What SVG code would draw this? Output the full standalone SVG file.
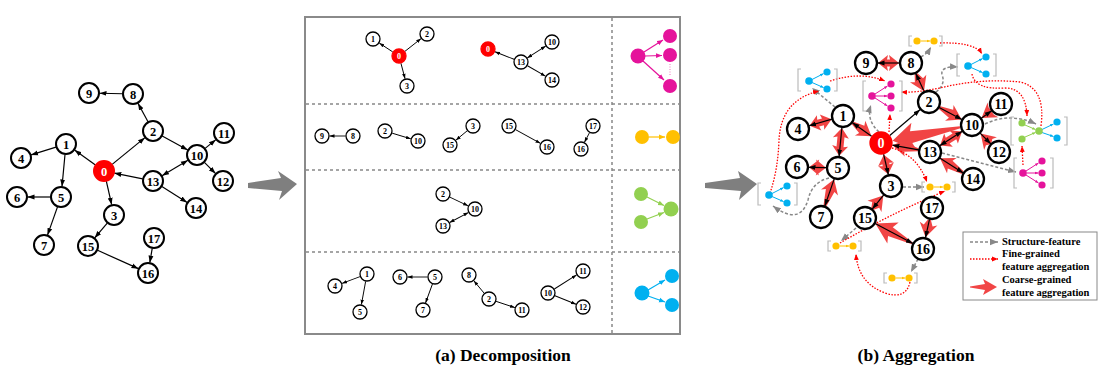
<svg xmlns="http://www.w3.org/2000/svg" xmlns:xlink="http://www.w3.org/1999/xlink" width="1101" height="373" viewBox="0 0 1101 373">
<style>
.n circle{fill:#fff;stroke:#000;stroke-width:2}
.n text{font-family:"Liberation Serif",serif;font-weight:bold;text-anchor:middle;fill:#000}
.L text{font-size:12.5px}
.M circle{stroke-width:1.3}
.M text{font-size:8px}
.R circle{stroke-width:2.3}
.R text{font-size:14px}
.n .z circle{fill:#f00;stroke:#f00}
.n .z text{fill:#fff}
.e{stroke:#000;stroke-width:1.2;fill:none;marker-end:url(#ah)}
.eb{marker-start:url(#ah)}
.em{stroke:#000;stroke-width:0.9;fill:none;marker-end:url(#ahs)}
.emb{marker-start:url(#ahs)}
.ra{fill:#f03535;opacity:0.92}
.gd{stroke:#888;stroke-width:1.5;stroke-dasharray:3 2;fill:none;marker-end:url(#gh)}
.rd{stroke:#f00;stroke-width:1.3;stroke-dasharray:1.5 1.5;fill:none;marker-end:url(#rh)}
.br{stroke:#bbb;stroke-width:1.2;fill:none}
.grid{stroke:#888;stroke-width:1.5;stroke-dasharray:3 3;fill:none}
.lg{font-family:"Liberation Serif",serif;font-weight:bold;font-size:10.5px;fill:#000}
.tt{font-family:"Liberation Serif",serif;font-weight:bold;font-size:17.5px;text-anchor:middle;fill:#000}
</style>
<defs>
<marker id="ah" viewBox="0 0 10 10" refX="10" refY="5" markerWidth="7" markerHeight="7" markerUnits="userSpaceOnUse" orient="auto-start-reverse"><path d="M0,1.5 L10,5 L0,8.5 z" fill="#000"/></marker>
<marker id="ahs" viewBox="0 0 10 10" refX="10" refY="5" markerWidth="5" markerHeight="5" markerUnits="userSpaceOnUse" orient="auto-start-reverse"><path d="M0,1.5 L10,5 L0,8.5 z" fill="#000"/></marker>
<marker id="gh" viewBox="0 0 10 10" refX="10" refY="5" markerWidth="8" markerHeight="8" markerUnits="userSpaceOnUse" orient="auto"><path d="M0,1 L10,5 L0,9 z" fill="#888"/></marker>
<marker id="rh" viewBox="0 0 10 10" refX="10" refY="5" markerWidth="6" markerHeight="6" markerUnits="userSpaceOnUse" orient="auto"><path d="M0,1 L10,5 L0,9 z" fill="#f00"/></marker>
<marker id="mh" viewBox="0 0 10 10" refX="10" refY="5" markerWidth="6" markerHeight="6" markerUnits="userSpaceOnUse" orient="auto"><path d="M0,1 L10,5 L0,9 z" fill="#e5139b"/></marker>
<marker id="oh" viewBox="0 0 10 10" refX="10" refY="5" markerWidth="6" markerHeight="6" markerUnits="userSpaceOnUse" orient="auto"><path d="M0,1 L10,5 L0,9 z" fill="#ffc000"/></marker>
<marker id="grh" viewBox="0 0 10 10" refX="10" refY="5" markerWidth="6" markerHeight="6" markerUnits="userSpaceOnUse" orient="auto"><path d="M0,1 L10,5 L0,9 z" fill="#92d050"/></marker>
<marker id="bh" viewBox="0 0 10 10" refX="10" refY="5" markerWidth="6" markerHeight="6" markerUnits="userSpaceOnUse" orient="auto"><path d="M0,1 L10,5 L0,9 z" fill="#00b0f0"/></marker>
<marker id="mhs" viewBox="0 0 10 10" refX="10" refY="5" markerWidth="3.5" markerHeight="3.5" markerUnits="userSpaceOnUse" orient="auto"><path d="M0,1 L10,5 L0,9 z" fill="#e5139b"/></marker>
<marker id="ohs" viewBox="0 0 10 10" refX="10" refY="5" markerWidth="3.5" markerHeight="3.5" markerUnits="userSpaceOnUse" orient="auto"><path d="M0,1 L10,5 L0,9 z" fill="#ffc000"/></marker>
<marker id="grhs" viewBox="0 0 10 10" refX="10" refY="5" markerWidth="3.5" markerHeight="3.5" markerUnits="userSpaceOnUse" orient="auto"><path d="M0,1 L10,5 L0,9 z" fill="#92d050"/></marker>
<marker id="bhs" viewBox="0 0 10 10" refX="10" refY="5" markerWidth="3.5" markerHeight="3.5" markerUnits="userSpaceOnUse" orient="auto"><path d="M0,1 L10,5 L0,9 z" fill="#00b0f0"/></marker>
<g id="icM">
<path class="br" d="M-6,-15 H-9 V15 H-6 M27,-15 H30 V15 H27"/>
<g stroke="#e5139b" stroke-width="1" fill="none" marker-end="url(#mhs)"><line x1="3" y1="-2" x2="15.5" y2="-10"/><line x1="3.6" y1="0" x2="15.4" y2="0"/><line x1="3" y1="2" x2="15.5" y2="10"/></g>
<g fill="#e5139b"><circle cx="0" cy="0" r="3.8"/><circle cx="19" cy="-12" r="3.6"/><circle cx="19" cy="0" r="3.6"/><circle cx="19" cy="12" r="3.6"/></g>
</g>
<g id="icB">
<path class="br" d="M-8,-12 H-11 V10 H-8 M25,-12 H28 V10 H25"/>
<g stroke="#00b0f0" stroke-width="1" fill="none" marker-end="url(#bhs)"><line x1="3" y1="-1.5" x2="14.6" y2="-7.4"/><line x1="3" y1="1.5" x2="14.6" y2="6.6"/></g>
<g fill="#00b0f0"><circle cx="0" cy="0" r="3.8"/><circle cx="18" cy="-9" r="3.6"/><circle cx="18" cy="8" r="3.6"/></g>
</g>
<g id="icO">
<path class="br" d="M-5,-5 H-8 V5 H-5 M22,-5 H25 V5 H22"/>
<line x1="3.6" y1="0" x2="13.2" y2="0" stroke="#ffc000" stroke-width="1" marker-end="url(#ohs)"/>
<g fill="#ffc000"><circle cx="0" cy="0" r="3.6"/><circle cx="17" cy="0" r="3.6"/></g>
</g>
</defs>

<!-- big gray arrows -->
<polygon points="248,183 281,178 278,171 297,184 279,200 282,191 248,188" fill="#7f7f7f"/>
<polygon points="705,183 740,178 738,171 757,184 739,200 741,191 705,188" fill="#7f7f7f"/>

<!-- decomposition frame -->
<g id="frame">
<rect x="305" y="17" width="375" height="317" fill="none" stroke="#8a8a8a" stroke-width="2"/>
<line class="grid" x1="612" y1="18" x2="612" y2="333"/>
<line class="grid" x1="306" y1="104" x2="679" y2="104"/>
<line class="grid" x1="306" y1="170" x2="679" y2="170"/>
<line class="grid" x1="306" y1="252" x2="679" y2="252"/>
</g>

<g id="connectors">
<!-- left graph edges -->
<g>
<line class="e" transform="translate(133,94) rotate(181.3)" x1="10.5" y1="0" x2="33.5" y2="0"/>
<line class="e" transform="translate(153,131) rotate(-118.4)" x1="10.5" y1="0" x2="31.6" y2="0"/>
<line class="e" transform="translate(153,131) rotate(28.6)" x1="10.5" y1="0" x2="39.6" y2="0"/>
<line class="e" transform="translate(104,171) rotate(-39.2)" x1="10.5" y1="0" x2="52.8" y2="0"/>
<line class="e" transform="translate(104,171) rotate(-144.6)" x1="10.5" y1="0" x2="36.1" y2="0"/>
<line class="e" transform="translate(66,144) rotate(162.7)" x1="10.5" y1="0" x2="36.6" y2="0"/>
<line class="e" transform="translate(66,144) rotate(95.4)" x1="10.5" y1="0" x2="42.7" y2="0"/>
<line class="e" transform="translate(61,197) rotate(180)" x1="10.5" y1="0" x2="33.5" y2="0"/>
<line class="e" transform="translate(61,197) rotate(109.5)" x1="10.5" y1="0" x2="40.4" y2="0"/>
<line class="e" transform="translate(104,171) rotate(77.2)" x1="10.5" y1="0" x2="34.6" y2="0"/>
<line class="e" transform="translate(114,215) rotate(130)" x1="10.5" y1="0" x2="30" y2="0"/>
<line class="e" transform="translate(88,246) rotate(24.2)" x1="10.5" y1="0" x2="55.3" y2="0"/>
<line class="e" transform="translate(154,238) rotate(99.7)" x1="10.5" y1="0" x2="25" y2="0"/>
<line class="e" transform="translate(153,181) rotate(-168.5)" x1="10.5" y1="0" x2="39.5" y2="0"/>
<line class="e eb" transform="translate(153,181) rotate(-30.6)" x1="10.5" y1="0" x2="40.6" y2="0"/>
<line class="e" transform="translate(153,181) rotate(32.1)" x1="10.5" y1="0" x2="40.3" y2="0"/>
<line class="e" transform="translate(197,155) rotate(-39.2)" x1="10.5" y1="0" x2="24.3" y2="0"/>
<line class="e" transform="translate(197,155) rotate(45)" x1="10.5" y1="0" x2="26.3" y2="0"/>
</g>
<!-- middle subgraph edges -->
<g>
<line class="em" transform="translate(399,56) rotate(213.2)" x1="7.5" y1="0" x2="23.6" y2="0"/>
<line class="em" transform="translate(399,56) rotate(-38.2)" x1="7.5" y1="0" x2="28.1" y2="0"/>
<line class="em" transform="translate(399,56) rotate(75.1)" x1="7.5" y1="0" x2="23.5" y2="0"/>
<line class="em" transform="translate(521,62) rotate(201.5)" x1="7.5" y1="0" x2="28" y2="0"/>
<line class="em emb" transform="translate(521,62) rotate(-32.8)" x1="7.5" y1="0" x2="29.4" y2="0"/>
<line class="em" transform="translate(521,62) rotate(30.1)" x1="7.5" y1="0" x2="28.3" y2="0"/>
<line class="em" transform="translate(353,136) rotate(180)" x1="7.5" y1="0" x2="23.5" y2="0"/>
<line class="em" transform="translate(385,131) rotate(16.9)" x1="7.5" y1="0" x2="27" y2="0"/>
<line class="em" transform="translate(473,126) rotate(140.4)" x1="7.5" y1="0" x2="22.3" y2="0"/>
<line class="em" transform="translate(509,126) rotate(28.9)" x1="7.5" y1="0" x2="35.9" y2="0"/>
<line class="em" transform="translate(593,126) rotate(117.6)" x1="7.5" y1="0" x2="18.4" y2="0"/>
<line class="em" transform="translate(443,194) rotate(25.1)" x1="7.5" y1="0" x2="27.8" y2="0"/>
<line class="em emb" transform="translate(443,226) rotate(-28)" x1="7.5" y1="0" x2="28.7" y2="0"/>
<line class="em" transform="translate(367,274) rotate(159.4)" x1="7.5" y1="0" x2="26.7" y2="0"/>
<line class="em" transform="translate(367,274) rotate(100.4)" x1="7.5" y1="0" x2="31.1" y2="0"/>
<line class="em" transform="translate(435,277) rotate(180)" x1="7.5" y1="0" x2="27.5" y2="0"/>
<line class="em" transform="translate(435,277) rotate(110)" x1="7.5" y1="0" x2="27.6" y2="0"/>
<line class="em" transform="translate(489,299) rotate(-129.8)" x1="7.5" y1="0" x2="23.7" y2="0"/>
<line class="em" transform="translate(489,299) rotate(18.4)" x1="7.5" y1="0" x2="27.3" y2="0"/>
<line class="em" transform="translate(548,293) rotate(-32.2)" x1="7.5" y1="0" x2="33.8" y2="0"/>
<line class="em" transform="translate(548,293) rotate(21.8)" x1="7.5" y1="0" x2="30.2" y2="0"/>
</g>
<!-- pattern column arrows -->
<g fill="none" stroke-width="1.2">
<g stroke="#e5139b" marker-end="url(#mh)"><line x1="644" y1="52" x2="663" y2="40"/><line x1="645" y1="56" x2="662" y2="55.5"/><line x1="643" y1="61" x2="664" y2="80"/></g>
<line x1="670" y1="64" x2="670" y2="76" stroke="#f08ccb" stroke-dasharray="1 1.5"/>
<line x1="649" y1="137" x2="665" y2="137" stroke="#ffc000" marker-end="url(#oh)"/>
<g stroke="#92d050" marker-end="url(#grh)"><line x1="647" y1="197" x2="664" y2="205.5"/><line x1="647" y1="219" x2="664" y2="212.5"/></g>
<g stroke="#00b0f0" marker-end="url(#bh)"><line x1="648" y1="290" x2="665" y2="280"/><line x1="648" y1="296" x2="665" y2="302"/></g>
</g>
<!-- coarse-grained red arrows -->
<g class="ra">
<polygon transform="translate(866,63) rotate(0)" points="12,0 22,-8 21,-3.5 24,-3.5 23,-8 33,0 23,8 24,3.5 21,3.5 22,8"/>
<polygon transform="translate(911,63) rotate(65.2)" points="12,-1.5 19,-4.5 17,-9 31,0 17,9 19,4.5 12,1.5"/>
<polygon transform="translate(929,102) rotate(28.1)" points="12,-1.5 25,-4.5 23,-9 37,0 23,9 25,4.5 12,1.5"/>
<polygon transform="translate(1001,104) rotate(144.1)" points="12,-1.5 12,-4.5 10,-9 24,0 10,9 12,4.5 12,1.5"/>
<polygon transform="translate(999,152) rotate(-135)" points="12,-1.5 14,-4.5 12,-9 26,0 12,9 14,4.5 12,1.5"/>
<polygon transform="translate(930,152) rotate(-32.7)" points="12,0 22,-8 21,-3.5 29,-3.5 28,-8 38,0 28,8 29,3.5 21,3.5 22,8"/>
<polygon transform="translate(973,179) rotate(-147.9)" points="12,-1.5 27,-4.5 25,-9 39,0 25,9 27,4.5 12,1.5"/>
<polygon transform="translate(972,125) rotate(168.8)" points="12,-1 62,-6 59,-14 81,0 59,14 62,6 12,1"/>
<polygon transform="translate(930,152) rotate(-169.6)" points="12,-1.5 26,-4.5 24,-9 38,0 24,9 26,4.5 12,1.5"/>
<polygon transform="translate(843,116) rotate(35.4)" points="12,-1.5 23,-4.5 21,-9 35,0 21,9 23,4.5 12,1.5"/>
<polygon transform="translate(798,129) rotate(-16.1)" points="12,0 22,-8 21,-3.5 26,-3.5 25,-8 35,0 25,8 26,3.5 21,3.5 22,8"/>
<polygon transform="translate(843,116) rotate(95.5)" points="12,0 22,-8 21,-3.5 31,-3.5 30,-8 40,0 30,8 31,3.5 21,3.5 22,8"/>
<polygon transform="translate(797,167) rotate(1.4)" points="12,0 22,-8 21,-3.5 20,-3.5 19,-8 29,0 19,8 20,3.5 21,3.5 22,8"/>
<polygon transform="translate(821,217) rotate(-70.9)" points="12,-1.5 28,-4.5 26,-9 40,0 26,9 28,4.5 12,1.5"/>
<polygon transform="translate(881,143) rotate(76.9)" points="12,0 22,-8 21,-3.5 23,-3.5 22,-8 32,0 22,8 23,3.5 21,3.5 22,8"/>
<polygon transform="translate(865,218) rotate(-50.9)" points="12,-1.5 17,-4.5 15,-9 29,0 15,9 17,4.5 12,1.5"/>
<polygon transform="translate(923,249) rotate(-151.9)" points="12,-1 37,-5 34,-12 54,0 34,12 37,5 12,1"/>
<polygon transform="translate(932,208) rotate(102.4)" points="12,-1.5 18,-4.5 16,-9 30,0 16,9 18,4.5 12,1.5"/>
</g>
<!-- right graph black edges -->
<g>
<line class="e" transform="translate(911,63) rotate(180)" x1="11.5" y1="0" x2="33.5" y2="0"/>
<line class="e" transform="translate(929,102) rotate(-114.8)" x1="11.5" y1="0" x2="31.5" y2="0"/>
<line class="e" transform="translate(929,102) rotate(28.1)" x1="11.5" y1="0" x2="37.3" y2="0"/>
<line class="e" transform="translate(881,143) rotate(-40.5)" x1="11.5" y1="0" x2="51.6" y2="0"/>
<line class="e" transform="translate(881,143) rotate(-144.6)" x1="11.5" y1="0" x2="35.1" y2="0"/>
<line class="e" transform="translate(843,116) rotate(163.9)" x1="11.5" y1="0" x2="35.3" y2="0"/>
<line class="e" transform="translate(843,116) rotate(95.5)" x1="11.5" y1="0" x2="40.7" y2="0"/>
<line class="e" transform="translate(838,168) rotate(181.4)" x1="11.5" y1="0" x2="29.5" y2="0"/>
<line class="e" transform="translate(838,168) rotate(109.1)" x1="11.5" y1="0" x2="40.4" y2="0"/>
<line class="e" transform="translate(881,143) rotate(76.9)" x1="11.5" y1="0" x2="32.6" y2="0"/>
<line class="e" transform="translate(891,186) rotate(129.1)" x1="11.5" y1="0" x2="29.7" y2="0"/>
<line class="e" transform="translate(865,218) rotate(28.1)" x1="11.5" y1="0" x2="54.3" y2="0"/>
<line class="e" transform="translate(932,208) rotate(102.4)" x1="11.5" y1="0" x2="30.5" y2="0"/>
<line class="e" transform="translate(930,152) rotate(-169.6)" x1="11.5" y1="0" x2="38.3" y2="0"/>
<line class="e eb" transform="translate(930,152) rotate(-32.7)" x1="11.5" y1="0" x2="38.4" y2="0"/>
<line class="e" transform="translate(930,152) rotate(32.1)" x1="11.5" y1="0" x2="39.3" y2="0"/>
<line class="e" transform="translate(972,125) rotate(-35.9)" x1="11.5" y1="0" x2="24.3" y2="0"/>
<line class="e" transform="translate(972,125) rotate(45)" x1="11.5" y1="0" x2="26.7" y2="0"/>
</g>
<!-- structure-feature (gray dashed) -->
<g>
<path class="gd" d="M879,132 Q866,120 871,105"/>
<path class="gd" d="M835,107 L812,88"/>
<path class="gd" d="M921,57 Q927,54 931,47"/>
<path class="gd" d="M936,92 Q946,84 942,75 Q940,66 958,67"/>
<path class="gd" d="M985,124 Q1010,112 1036,124"/>
<path class="gd" d="M942,153 L1016,172"/>
<path class="gd" d="M903,187 L924,187"/>
<path class="gd" d="M829,178 Q812,182 808,200 Q800,226 773,206"/>
<path class="gd" d="M856,228 L841,241"/>
<path class="gd" d="M918,259 L911,272"/>
</g>
<!-- fine-grained (red dotted) -->
<g>
<path class="rd" d="M830,81 Q860,71 885,81"/>
<path class="rd" d="M889,132 L890,114"/>
<path class="rd" d="M770,193 Q778,170 779,140 Q781,100 819,91"/>
<path class="rd" d="M940,43 Q975,42 982,54"/>
<path class="rd" d="M972,74 Q975,90 1005,88 Q1026,88 1027,116"/>
<path class="rd" d="M1041,126 Q1046,88 1020,82 Q980,78 940,88 Q915,93 901,92"/>
<path class="rd" d="M1023,165 L1022,146"/>
<path class="rd" d="M892,148 Q917,155 927,182"/>
<path class="rd" d="M840,243 Q890,214 945,191"/>
<path class="rd" d="M910,282 Q906,300 885,293 Q858,283 856,254"/>
</g>
</g>

<!-- left graph nodes -->
<g class="n L">
<g id="L9"><circle cx="89" cy="93" r="10"/><text x="89" y="97.5">9</text></g>
<g id="L8"><circle cx="133" cy="94" r="10"/><text x="133" y="98.5">8</text></g>
<g id="L2"><circle cx="153" cy="131" r="10"/><text x="153" y="135.5">2</text></g>
<g id="L1"><circle cx="66" cy="144" r="10"/><text x="66" y="148.5">1</text></g>
<g id="L4"><circle cx="21" cy="158" r="10"/><text x="21" y="162.5">4</text></g>
<g id="L0"><g class="z"><circle cx="104" cy="171" r="10"/><text x="104" y="175.5">0</text></g></g>
<g id="L10"><circle cx="197" cy="155" r="10"/><text x="197" y="159.5">10</text></g>
<g id="L11"><circle cx="224" cy="133" r="10"/><text x="224" y="137.5">11</text></g>
<g id="L12"><circle cx="223" cy="181" r="10"/><text x="223" y="185.5">12</text></g>
<g id="L13"><circle cx="153" cy="181" r="10"/><text x="153" y="185.5">13</text></g>
<g id="L14"><circle cx="196" cy="208" r="10"/><text x="196" y="212.5">14</text></g>
<g id="L5"><circle cx="61" cy="197" r="10"/><text x="61" y="201.5">5</text></g>
<g id="L6"><circle cx="17" cy="197" r="10"/><text x="17" y="201.5">6</text></g>
<g id="L3"><circle cx="114" cy="215" r="10"/><text x="114" y="219.5">3</text></g>
<g id="L7"><circle cx="44" cy="245" r="10"/><text x="44" y="249.5">7</text></g>
<g id="L15"><circle cx="88" cy="246" r="10"/><text x="88" y="250.5">15</text></g>
<g id="L17"><circle cx="154" cy="238" r="10"/><text x="154" y="242.5">17</text></g>
<g id="L16"><circle cx="148" cy="273" r="10"/><text x="148" y="277.5">16</text></g>
</g>

<!-- middle subgraph nodes -->
<g class="n M">
<g id="a1"><circle cx="373" cy="39" r="7"/><text x="373" y="42">1</text></g>
<g id="a2"><circle cx="427" cy="34" r="7"/><text x="427" y="37">2</text></g>
<g id="a0" class="z"><circle cx="399" cy="56" r="7"/><text x="399" y="59">0</text></g>
<g id="a3"><circle cx="407" cy="86" r="7"/><text x="407" y="89">3</text></g>
<g id="b0" class="z"><circle cx="488" cy="49" r="7"/><text x="488" y="52">0</text></g>
<g id="b13"><circle cx="521" cy="62" r="7"/><text x="521" y="65">13</text></g>
<g id="b10"><circle cx="552" cy="42" r="7"/><text x="552" y="45">10</text></g>
<g id="b14"><circle cx="552" cy="80" r="7"/><text x="552" y="83">14</text></g>
<g id="c9"><circle cx="322" cy="136" r="7"/><text x="322" y="139">9</text></g>
<g id="c8"><circle cx="353" cy="136" r="7"/><text x="353" y="139">8</text></g>
<g id="d2"><circle cx="385" cy="131" r="7"/><text x="385" y="134">2</text></g>
<g id="d10"><circle cx="418" cy="141" r="7"/><text x="418" y="144">10</text></g>
<g id="e3"><circle cx="473" cy="126" r="7"/><text x="473" y="129">3</text></g>
<g id="e15"><circle cx="450" cy="145" r="7"/><text x="450" y="148">15</text></g>
<g id="f15"><circle cx="509" cy="126" r="7"/><text x="509" y="129">15</text></g>
<g id="f16"><circle cx="547" cy="147" r="7"/><text x="547" y="150">16</text></g>
<g id="g17"><circle cx="593" cy="126" r="7"/><text x="593" y="129">17</text></g>
<g id="g16"><circle cx="581" cy="149" r="7"/><text x="581" y="152">16</text></g>
<g id="h2"><circle cx="443" cy="194" r="7"/><text x="443" y="197">2</text></g>
<g id="h10"><circle cx="475" cy="209" r="7"/><text x="475" y="212">10</text></g>
<g id="h13"><circle cx="443" cy="226" r="7"/><text x="443" y="229">13</text></g>
<g id="i1"><circle cx="367" cy="274" r="7"/><text x="367" y="277">1</text></g>
<g id="i4"><circle cx="335" cy="286" r="7"/><text x="335" y="289">4</text></g>
<g id="i5"><circle cx="360" cy="312" r="7"/><text x="360" y="315">5</text></g>
<g id="j6"><circle cx="400" cy="277" r="7"/><text x="400" y="280">6</text></g>
<g id="j5"><circle cx="435" cy="277" r="7"/><text x="435" y="280">5</text></g>
<g id="j7"><circle cx="423" cy="310" r="7"/><text x="423" y="313">7</text></g>
<g id="k8"><circle cx="469" cy="275" r="7"/><text x="469" y="278">8</text></g>
<g id="k2"><circle cx="489" cy="299" r="7"/><text x="489" y="302">2</text></g>
<g id="k11"><circle cx="522" cy="310" r="7"/><text x="522" y="313">11</text></g>
<g id="l10"><circle cx="548" cy="293" r="7"/><text x="548" y="296">10</text></g>
<g id="l11"><circle cx="583" cy="271" r="7"/><text x="583" y="274">11</text></g>
<g id="l12"><circle cx="583" cy="307" r="7"/><text x="583" y="310">12</text></g>
</g>

<!-- pattern column nodes -->
<g id="patM" fill="#e5139b"><circle cx="638" cy="56" r="7.5"/><circle cx="670" cy="36" r="7"/><circle cx="670" cy="55" r="7"/><circle cx="670" cy="86" r="7"/></g>
<g id="patO" fill="#ffc000"><circle cx="642" cy="137" r="7"/><circle cx="673" cy="137" r="7"/></g>
<g id="patG" fill="#92d050"><circle cx="641" cy="194" r="7"/><circle cx="641" cy="222" r="7"/><circle cx="671" cy="209" r="7.5"/></g>
<g id="patB" fill="#00b0f0"><circle cx="642" cy="293" r="7.5"/><circle cx="672" cy="276" r="7"/><circle cx="672" cy="305" r="7"/></g>

<!-- pattern icons in aggregation -->
<use id="iconM1" xlink:href="#icM" href="#icM" x="872" y="96"/>
<use id="iconM2" xlink:href="#icM" href="#icM" x="1023" y="173"/>
<use id="iconB1" xlink:href="#icB" href="#icB" x="809" y="81"/>
<use id="iconB2" xlink:href="#icB" href="#icB" x="769" y="195"/>
<use id="iconB3" xlink:href="#icB" href="#icB" x="968" y="66"/>
<use id="iconO1" xlink:href="#icO" href="#icO" x="917" y="41"/>
<use id="iconO2" xlink:href="#icO" href="#icO" x="930" y="187"/>
<use id="iconO3" xlink:href="#icO" href="#icO" x="836" y="246"/>
<use id="iconO4" xlink:href="#icO" href="#icO" x="892" y="278"/>
<g id="iconG">
<path class="br" d="M1014,117 H1011 V145 H1014 M1064,117 H1067 V145 H1064"/>
<g stroke-width="1" fill="none"><g stroke="#92d050" marker-end="url(#grhs)"><line x1="1025" y1="125" x2="1035.5" y2="129.5"/><line x1="1025" y1="137" x2="1035.5" y2="132.5"/></g>
<g stroke="#00b0f0" marker-end="url(#bhs)"><line x1="1042" y1="129.5" x2="1053.5" y2="124"/><line x1="1042" y1="132.5" x2="1053.5" y2="136.5"/></g></g>
<circle cx="1022" cy="123" r="3.6" fill="#92d050"/><circle cx="1022" cy="139" r="3.6" fill="#92d050"/><circle cx="1039" cy="131" r="3.8" fill="#92d050"/>
<circle cx="1057" cy="122" r="3.6" fill="#00b0f0"/><circle cx="1057" cy="138" r="3.6" fill="#00b0f0"/>
</g>

<!-- right graph nodes -->
<g class="n R">
<g id="R9"><circle cx="866" cy="63" r="11"/><text x="866" y="68">9</text></g>
<g id="R8"><circle cx="911" cy="63" r="11"/><text x="911" y="68">8</text></g>
<g id="R2"><circle cx="929" cy="102" r="11"/><text x="929" y="107">2</text></g>
<g id="R1"><circle cx="843" cy="116" r="11"/><text x="843" y="121">1</text></g>
<g id="R4"><circle cx="798" cy="129" r="11"/><text x="798" y="134">4</text></g>
<g id="R0" class="z"><circle cx="881" cy="143" r="10.5"/><text x="881" y="148">0</text></g>
<g id="R13"><circle cx="930" cy="152" r="11"/><text x="930" y="157">13</text></g>
<g id="R10"><circle cx="972" cy="125" r="11"/><text x="972" y="130">10</text></g>
<g id="R11"><circle cx="1001" cy="104" r="11"/><text x="1001" y="109">11</text></g>
<g id="R12"><circle cx="999" cy="152" r="11"/><text x="999" y="157">12</text></g>
<g id="R14"><circle cx="973" cy="179" r="11"/><text x="973" y="184">14</text></g>
<g id="R6"><circle cx="797" cy="167" r="11"/><text x="797" y="172">6</text></g>
<g id="R5"><circle cx="838" cy="168" r="11"/><text x="838" y="173">5</text></g>
<g id="R7"><circle cx="821" cy="217" r="11"/><text x="821" y="222">7</text></g>
<g id="R3"><circle cx="891" cy="186" r="11"/><text x="891" y="191">3</text></g>
<g id="R15"><circle cx="865" cy="218" r="11"/><text x="865" y="223">15</text></g>
<g id="R17"><circle cx="932" cy="208" r="11"/><text x="932" y="213">17</text></g>
<g id="R16"><circle cx="923" cy="249" r="11"/><text x="923" y="254">16</text></g>
</g>

<!-- legend -->
<g id="legend">
<rect x="963" y="232" width="134" height="68" fill="#fff" stroke="#888" stroke-width="1"/>
<line class="gd" x1="970" y1="242" x2="998" y2="242"/>
<text class="lg" x="1002" y="245">Structure-feature</text>
<line class="rd" x1="970" y1="259" x2="998" y2="259"/>
<text class="lg" x="1002" y="257">Fine-grained</text>
<text class="lg" x="1002" y="270">feature aggregation</text>
<polygon class="ra" points="970,286.5 985,284 983,279 997,287 983,295 985,290 970,287.5"/>
<text class="lg" x="1002" y="283">Coarse-grained</text>
<text class="lg" x="1002" y="296">feature aggregation</text>
</g>

<text class="tt" x="503" y="361">(a) Decomposition</text>
<text class="tt" x="916" y="361">(b) Aggregation</text>
</svg>
